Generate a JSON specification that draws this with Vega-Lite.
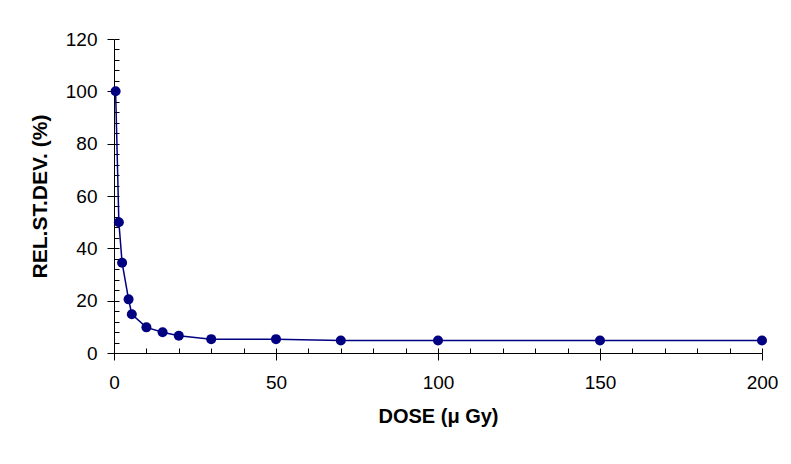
{
  "$schema": "https://vega.github.io/schema/vega-lite/v6.json",
  "autosize": "none",
  "width": 648,
  "height": 314,
  "padding": {"left": 114, "top": 39, "right": 29, "bottom": 111},
  "background": "white",
  "config": {
    "view": {"stroke": null},
    "font": "Liberation Sans",
    "axis": {
      "grid": false,
      "domainColor": "black",
      "tickColor": "black",
      "labelColor": "black",
      "titleColor": "black",
      "labelFont": "Liberation Sans",
      "titleFont": "Liberation Sans",
      "labelFontSize": 19,
      "titleFontSize": 20,
      "titleFontWeight": "bold",
      "labelFlush": false,
      "labelOverlap": false,
      "domainWidth": 1,
      "tickWidth": 1
    }
  },
  "data": {
    "values": [
      {"dose": 0.5, "rsd": 100},
      {"dose": 1.5, "rsd": 50},
      {"dose": 2.5, "rsd": 34.5},
      {"dose": 4.5, "rsd": 20.5},
      {"dose": 5.5, "rsd": 14.8},
      {"dose": 10, "rsd": 9.8},
      {"dose": 15, "rsd": 7.9},
      {"dose": 20, "rsd": 6.6},
      {"dose": 30, "rsd": 5.3},
      {"dose": 50, "rsd": 5.3},
      {"dose": 70, "rsd": 4.8},
      {"dose": 100, "rsd": 4.8},
      {"dose": 150, "rsd": 4.8},
      {"dose": 200, "rsd": 4.8}
    ]
  },
  "layer": [
    {
      "mark": {"type": "line", "color": "#000080", "strokeWidth": 1.5},
      "encoding": {
        "x": {
          "field": "dose", "type": "quantitative",
          "scale": {"domain": [0, 200], "nice": false},
          "axis": {
            "orient": "bottom",
            "title": "DOSE (μ Gy)",
            "values": [0, 50, 100, 150, 200],
            "tickSize": 7,
            "labelPadding": 13,
            "titlePadding": 14
          }
        },
        "y": {
          "field": "rsd", "type": "quantitative",
          "scale": {"domain": [0, 120], "nice": false},
          "axis": {
            "orient": "left",
            "title": "REL.ST.DEV. (%)",
            "titleFontSize": 21,
            "values": [0, 20, 40, 60, 80, 100, 120],
            "tickSize": 7,
            "labelPadding": 10,
            "titlePadding": 15
          }
        }
      }
    },
    {
      "mark": {"type": "point", "filled": true, "color": "#000080", "opacity": 1, "size": 100, "shape": "circle"},
      "encoding": {
        "x": {
          "field": "dose", "type": "quantitative",
          "scale": {"domain": [0, 200], "nice": false},
          "axis": {
            "orient": "bottom",
            "title": null,
            "labels": false,
            "domain": false,
            "values": [0, 10, 20, 30, 40, 50, 60, 70, 80, 90, 100, 110, 120, 130, 140, 150, 160, 170, 180, 190, 200],
            "tickSize": -5
          }
        },
        "y": {
          "field": "rsd", "type": "quantitative",
          "scale": {"domain": [0, 120], "nice": false},
          "axis": {
            "orient": "left",
            "title": null,
            "labels": false,
            "domain": false,
            "values": [0, 4, 8, 12, 16, 20, 24, 28, 32, 36, 40, 44, 48, 52, 56, 60, 64, 68, 72, 76, 80, 84, 88, 92, 96, 100, 104, 108, 112, 116, 120],
            "tickSize": -5
          }
        }
      }
    }
  ],
  "resolve": {"axis": {"x": "independent", "y": "independent"}}
}
